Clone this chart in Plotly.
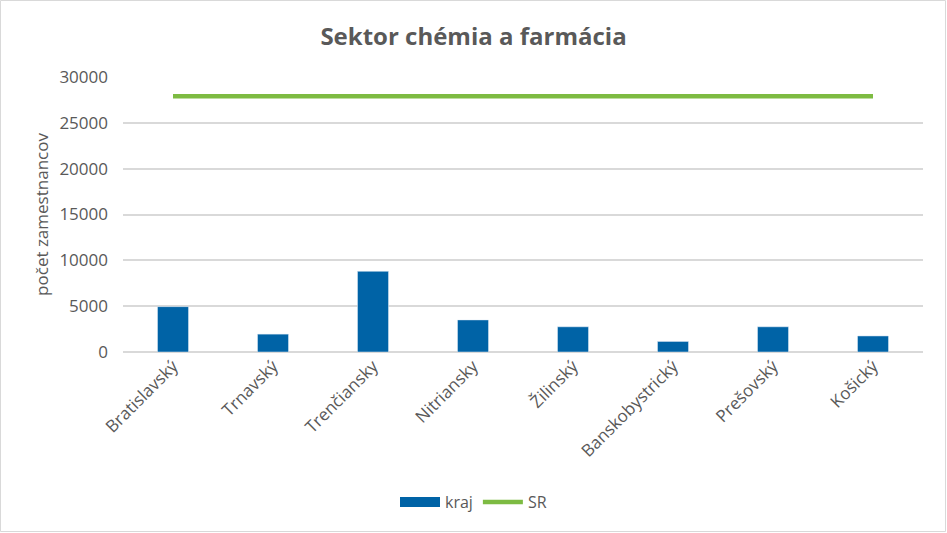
import plotly.graph_objects as go

categories = ["Bratislavský", "Trnavský", "Trenčiansky", "Nitriansky", "Žilinský",
              "Banskobystrický", "Prešovský", "Košický"]
kraj = [4950, 1950, 8800, 3500, 2750, 1150, 2750, 1750]
sr = [27900] * len(categories)

W, H = 947, 533
L, R, T, B = 123, 24, 77, 181
BLUE, GREEN, GREY = "#0063A6", "#7DBB42", "#595959"

fig = go.Figure()
fig.add_trace(go.Bar(x=categories, y=kraj, name="kraj", marker_color=BLUE,
                     showlegend=False, legendgroup="kraj"))
# legend entry styled like the wide Excel bar swatch
fig.add_trace(go.Scatter(x=[None], y=[None], name="kraj", mode="lines",
                         line=dict(color=BLUE, width=10), legendgroup="kraj"))
fig.add_trace(go.Scatter(x=categories, y=sr, name="SR", mode="lines",
                         line=dict(color=GREEN, width=4.5)))

pw, ph = W - L - R, H - T - B
fig.add_shape(type="rect", xref="paper", yref="paper",
              x0=-(L - 0.5) / pw, x1=1 + (R - 1.5) / pw,
              y0=-(B - 1.5) / ph, y1=1 + (T - 0.5) / ph,
              line=dict(color="#D9D9D9", width=1), layer="below")

fig.update_layout(
    width=W, height=H,
    margin=dict(l=L, r=R, t=T, b=B, autoexpand=False),
    paper_bgcolor="white", plot_bgcolor="white",
    font=dict(family="Open Sans, Lato, sans-serif", color=GREY, size=16),
    title=dict(text="<b>Sektor chémia a farmácia</b>", x=0.5, xanchor="center",
               y=1 - 37 / H, yanchor="middle", xref="container",
               font=dict(size=24, color=GREY)),
    bargap=0.69,
    showlegend=True,
    legend=dict(orientation="h", x=0.5, xanchor="center", xref="container",
                y=-(502 - (H - B)) / ph, yanchor="middle", itemwidth=40,
                font=dict(size=16, color=GREY)),
    xaxis=dict(tickangle=-45, showgrid=False, ticks="", showline=False, automargin=False,
               tickfont=dict(size=17, color=GREY)),
    yaxis=dict(range=[0, 30000], dtick=5000, tickformat="d", showgrid=True,
               gridcolor="#D9D9D9", automargin=False,
               gridwidth=1.6, zeroline=True, zerolinecolor="#D9D9D9", zerolinewidth=1.6,
               ticks="", ticklabelstandoff=14, tickfont=dict(size=17, color=GREY),
               title=dict(text="počet zamestnancov", font=dict(size=17, color=GREY),
                          standoff=6)),
)

fig.write_html("out.html", config={"displayModeBar": False})

# remove the browser's default page margin so the chart sits at (0, 0)
with open("out.html", encoding="utf-8") as f:
    html = f.read()
html = html.replace("<head>", "<head><style>html,body{margin:0;padding:0;}</style>", 1)
with open("out.html", "w", encoding="utf-8") as f:
    f.write(html)
